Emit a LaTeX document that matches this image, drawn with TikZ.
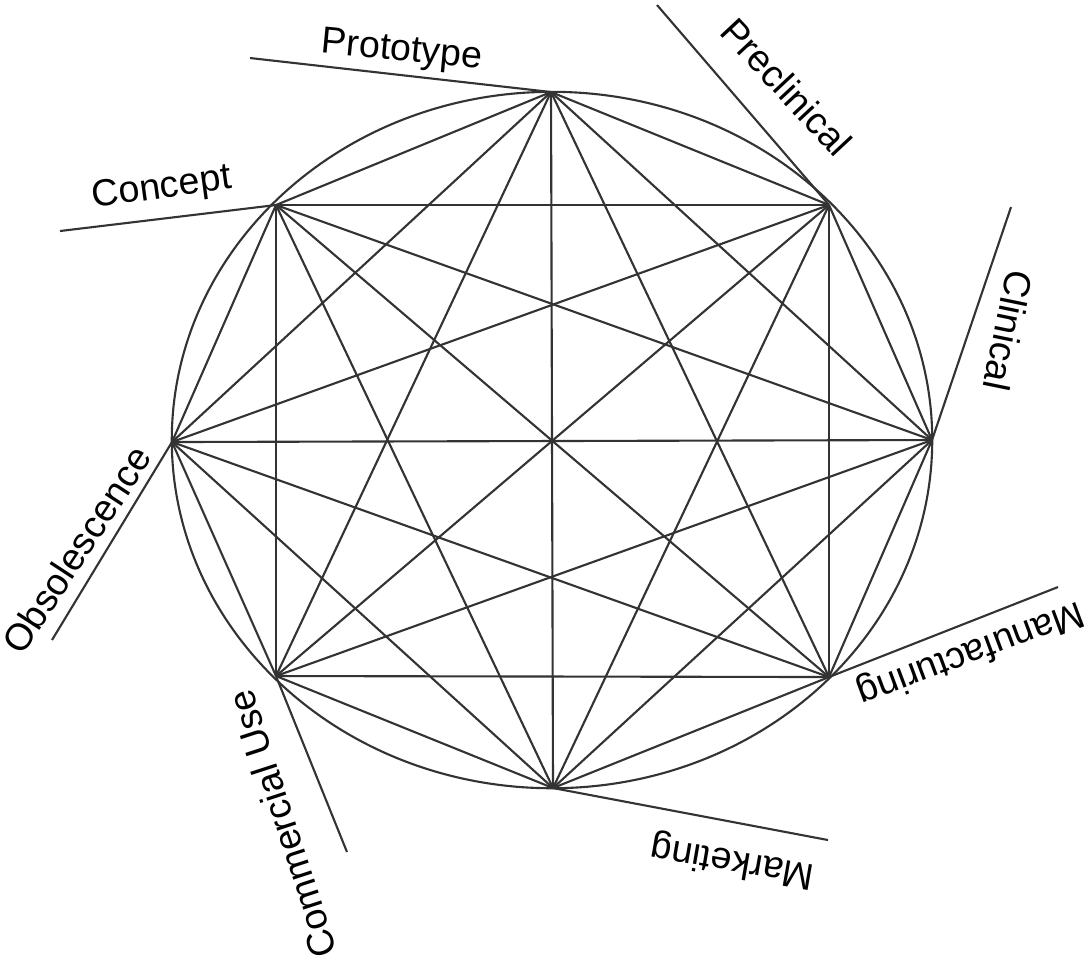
\documentclass[tikz,border=0pt]{standalone}
\usepackage{fontspec}
\setmainfont{Liberation Sans}
\usepackage{tikz}

\begin{document}
\begin{tikzpicture}[x=0.01cm,y=-0.01cm,
   ln/.style={line width=0.6pt,draw=black!80},
   lb/.style={font=\fontsize{10.7}{12}\selectfont,anchor=base,inner sep=0pt}]
  \useasboundingbox (0,0) rectangle (1089,959);
  % stages on the ring
  \coordinate (ctr) at (552,440);
  \coordinate (pt) at (551,92);
  \coordinate (pc) at (829,205);
  \coordinate (cl) at (932,440);
  \coordinate (mf) at (829,677);
  \coordinate (mk) at (553,788);
  \coordinate (cu) at (276,676);
  \coordinate (ob) at (172,442);
  \coordinate (co) at (276,205);
  % outer ends of the label lines
  \coordinate (pt-out) at (250,58);
  \coordinate (pc-out) at (657,5);
  \coordinate (cl-out) at (1011,207);
  \coordinate (mf-out) at (1058,587);
  \coordinate (mk-out) at (828,840);
  \coordinate (cu-out) at (347,852);
  \coordinate (ob-out) at (52,640);
  \coordinate (co-out) at (60,231);
  \draw[ln] (ctr) ellipse [x radius=3.80cm,y radius=3.48cm];
  % every stage linked to every other one
  \foreach \a [count=\i] in {pt,pc,cl,mf,mk,cu,ob,co}
    \foreach \b [count=\j] in {pt,pc,cl,mf,mk,cu,ob,co}
      {\ifnum\i<\j \draw[ln] (\a) -- (\b); \fi}
  \foreach \a in {pt,pc,cl,mf,mk,cu,ob,co}
    \draw[ln] (\a) -- (\a-out);
  % labels
  \node[lb,rotate=-5.5] (lpt) at (401,60.5) {Prototype};
  \node[lb,rotate=7.8] (lco) at (163,198) {Concept};
  \node[lb,rotate=-47] (lpc) at (777,96) {Preclinical};
  \node[lb,rotate=-101.6] (lcl) at (995,328) {Clinical};
  \node[lb,rotate=200.5] (lmf) at (967,643) {Manufacturing};
  \node[lb,rotate=170.2] (lmk) at (734.5,851) {Marketing};
  \node[lb,rotate=108] (lcu) at (295,820) {Commercial Use};
  \node[lb,rotate=56.8] (lob) at (88,557) {Obsolescence};
\end{tikzpicture}
\end{document}
